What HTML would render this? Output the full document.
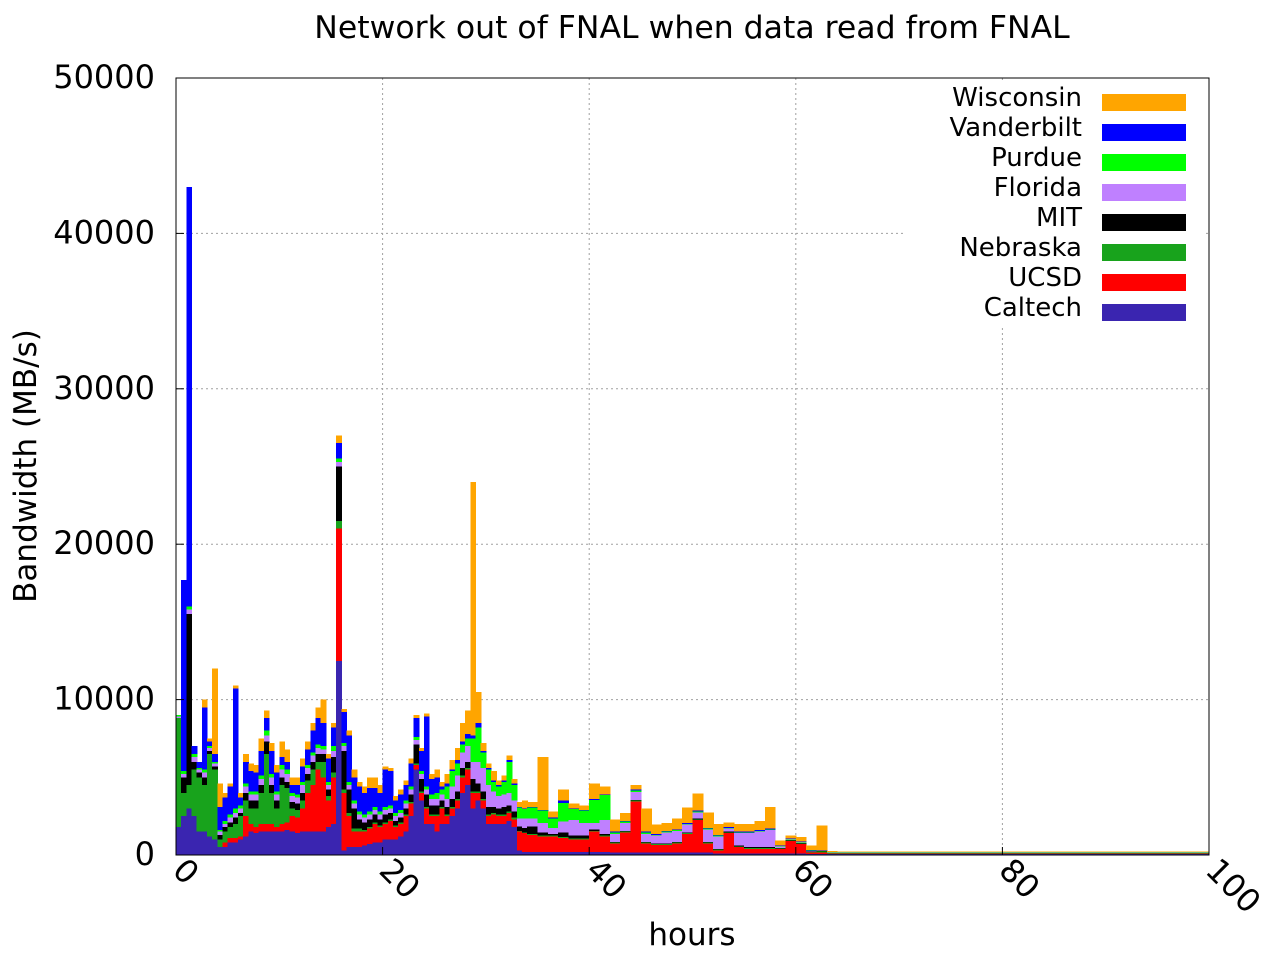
<!DOCTYPE html>
<html><head><meta charset="utf-8"><style>
body{margin:0;background:#fff;}
svg{display:block;font-family:"DejaVu Sans","Liberation Sans",sans-serif;}
</style></head><body>
<svg id="chart" width="1280" height="960">
<rect width="1280" height="960" fill="#fff"/>
<text x="692" y="38" font-size="31.5" text-anchor="middle">Network out of FNAL when data read from FNAL</text>
<g id="grid"></g>
<g id="bars"></g>
<g id="axes"></g>
<text x="692" y="945" font-size="31" text-anchor="middle">hours</text>
<text transform="translate(36,466) rotate(-90)" font-size="31" text-anchor="middle">Bandwidth (MB/s)</text>
<g id="legend"></g>
</svg>
<script>
const hours=[0,0.5,1,1.5,2,2.5,3,3.5,4,4.5,5,5.5,6,6.5,7,7.5,8,8.5,9,9.5,10,10.5,11,11.5,12,12.5,13,13.5,14,14.5,15,15.5,16,16.5,17,17.5,18,18.5,19,19.5,20,20.5,21,21.5,22,22.5,23,23.5,24,24.5,25,25.5,26,26.5,27,27.5,28,28.5,29,29.5,30,30.5,31,31.5,32,32.5,33,33.5,34,
35,36,37,38,39,40,41,42,43,44,45,46,47,48,49,50,51,52,53,54,55,56,57,58,59,60,61,62,63,
64,68,72,76,80,84,88,92,96];
// values in thousands of MB/s
const caltech=[1.8,2.5,3,2.5,1.5,1.5,1.2,1,0.5,0.5,0.8,0.8,1,1.2,1.5,1.4,1.5,1.5,1.5,1.5,1.5,1.6,1.5,1.4,1.5,1.5,1.5,1.5,1.5,1.8,2,12.5,0.3,0.5,0.5,0.5,0.6,0.7,0.8,0.8,1,1,1,1.2,1.5,2.5,5.5,3.5,2,2,1.5,2,2,2.5,3,4,4.5,3,3.5,3,2,2,2,2,2.2,1.8,0.3,0.2,0.2,
0.2,0.2,0.2,0.2,0.2,0.2,0.2,0.15,0.15,0.15,0.15,0.15,0.15,0.15,0.15,0.15,0.15,0.1,0.1,0.1,0.1,0.1,0.1,0.1,0.1,0.1,0.05,0.05,0.05,
0.05,0.05,0.05,0.05,0.05,0.05,0.05,0.05,0.05];
const ucsd=[0,0,0,0,0,0,0,0,0,0.3,0.3,0.3,0.2,1.3,0.5,0.4,0.5,0.5,0.5,0.3,0.5,0.5,1,1,1.5,2.5,3,4,3.5,1.7,3,8.5,3.7,2,1,1,0.9,1,1.2,1,1,1.2,0.8,0.8,1,0.8,0.3,0.5,1,0.5,1,1,0.5,0.5,0.5,1,1,1,0.5,0.5,0.5,0.6,0.5,0.5,0.5,0.5,1.2,1.2,1.1,
1,1,0.9,0.8,0.8,1.3,1,0.6,1.3,3.3,0.6,0.5,0.5,0.6,1.2,2.1,0.6,0.2,1.3,0.4,0.3,0.3,0.3,0.3,0.8,0.6,0.1,0.1,0.05,
0.05,0.05,0.05,0.05,0.05,0.05,0.05,0.05,0.05];
const nebraska=[7,1.5,1.5,3,3.5,3,5.3,4.5,0.5,0.7,0.7,0.9,1.3,1,1,1.2,2,4.5,2,1.2,2.5,2.2,0.5,0.5,0.5,0.8,1,0.5,1,0.3,0.3,0.5,0.2,0.2,0.2,0.2,0.1,
0.1,0.1,0.1,0.1,0.1,0.1,0.1,0.1,0.1,0.1,0.1,0.1,0.1,0.1,0.1,0.1,0.1,0.1,0.1,0.1,0.1,0.1,0.1,0.1,0.1,0.1,0.1,0.1,0.1,0.05,0.05,0.05,
0.05,0.05,0.05,0.05,0.05,0.05,0.05,0.05,0.05,0.05,0.05,0.05,0.05,0.05,0.05,0.05,0.05,0.05,0.05,0.05,0.05,0.05,0.05,0.03,0.03,0.03,0.03,0.03,0.02,
0.02,0.02,0.02,0.02,0.02,0.02,0.02,0.02,0.02];
const mit=[0,1,11,0.5,0.3,0.5,0.2,0.2,0.3,0.3,0.3,0.4,0.2,0.5,0.5,0.5,0.5,0.8,0.5,0.5,0.5,0.4,0.4,0.4,0.5,0.4,0.5,0.5,0.5,0.4,1,3.5,2.5,1.5,1.3,0.6,0.5,0.5,0.5,0.4,0.5,0.4,0.3,0.3,0.4,0.5,1.2,0.8,0.8,0.6,0.6,0.4,0.5,0.5,0.5,0.5,0.4,0.8,0.5,0.5,0.5,0.4,0.4,0.5,0.4,0.4,0.3,0.3,0.5,
0.2,0.1,0.3,0.2,0.2,0.1,0.1,0.05,0.05,0.05,0.05,0.05,0.05,0.05,0.05,0.05,0.05,0.05,0.05,0.05,0.05,0.05,0.05,0.03,0.03,0.03,0.03,0.03,0.02,
0.02,0.02,0.02,0.02,0.02,0.02,0.02,0.02,0.02];
const florida=[0.1,0.2,0.3,0.3,0.2,0.3,0.2,0.2,0.2,0.2,0.3,0.3,0.3,0.4,0.4,0.4,0.4,0.4,0.5,0.4,0.5,0.5,0.4,0.4,0.5,0.4,0.4,0.4,0.3,0.3,0.4,0.3,0.3,0.3,0.3,0.3,0.3,0.3,0.3,0.3,0.3,0.3,0.3,0.3,0.3,0.3,0.3,0.3,0.3,0.4,0.4,0.4,0.5,0.8,1,1,1,1.1,1.4,1.5,1.4,1,0.8,0.8,0.8,0.7,0.5,0.6,0.5,
0.6,0.4,0.7,1,0.8,0.4,0.9,0.5,0.5,0.5,0.5,0.5,0.7,0.7,0.5,0.4,0.8,0.8,0.2,0.8,0.9,1,1.1,0.1,0.05,0.05,0.05,0.03,0.02,
0.02,0.02,0.02,0.02,0.02,0.02,0.02,0.02,0.02];
const purdue=[0.1,0.2,0.2,0.2,0.1,0.2,0.1,0.1,0.1,0.2,0.2,0.3,0.2,0.2,0.2,0.2,0.2,0.3,0.2,0.2,0.3,0.3,0.2,0.2,0.2,0.2,0.2,0.2,0.2,0.2,0.3,0.2,0.2,0.2,0.2,0.2,0.2,0.2,0.2,0.2,0.2,0.2,0.2,0.2,0.2,0.2,0.2,0.2,0.2,0.3,0.4,0.3,0.8,1,0.8,0.5,0.5,1.5,2.2,1,1,0.6,0.6,0.8,2,1,0.7,0.6,0.7,
0.8,0.6,1.2,0.7,0.8,1.5,1.6,0.1,0.1,0.1,0.1,0.05,0.05,0.05,0.05,0.05,0.05,0.05,0.05,0.05,0.05,0.05,0.05,0.03,0.03,0.03,0.03,0.03,0.02,
0.02,0.02,0.02,0.02,0.02,0.02,0.02,0.02,0.02];
const vanderbilt=[0,12.3,27,0.5,0.4,4,0.3,0.5,1.5,1.5,1.8,7.7,0.5,1.4,1.3,1.2,1.6,0.8,1.5,1.2,0.5,0.5,0.5,0.6,1,1,1.4,1.7,1.5,1.5,1.2,1,2,3,1.5,1.6,1.4,1.5,1.2,1.2,2.4,2.2,0.8,1,1,1.5,1.2,1.3,4.5,1,1,0.2,0.2,0.1,0.2,0.2,0.3,0.2,0.3,0.1,0.1,0.1,0.1,0.1,0.1,0.1,0.05,0.05,0.05,
0.05,0.05,0.15,0.05,0.05,0.05,0.05,0.05,0.05,0.05,0.05,0.05,0.05,0.05,0.05,0.05,0.05,0.05,0.05,0.05,0.05,0.05,0.05,0.03,0.03,0.03,0.03,0.03,0.02,
0.02,0.02,0.02,0.02,0.02,0.02,0.02,0.02,0.02];
const wisconsin=[0,0,0,0,0,0.5,0.2,5.5,1.5,0.3,0.2,0.2,0.3,0.5,0.5,0.5,0.8,0.5,0.5,0.5,1,0.8,0.5,0.5,0.5,0.5,0.5,0.7,1.5,0.3,0.3,0.5,0.2,0.3,0.5,0.3,0.4,0.7,0.7,0.5,0.2,0.2,0.3,0.3,0.3,0.3,0.2,0.2,0.2,0.3,0.5,0.3,0.6,0.6,0.8,1.2,1.5,16.3,2,0.5,0.3,0.6,0.3,0.3,0.3,0.3,0.3,0.5,0.3,
3.4,0.4,0.7,0.3,0.3,1,0.5,0.8,0.5,0.3,1.5,0.6,0.5,0.7,1,1.1,1,0.7,0.3,0.5,0.5,0.6,1.4,0.3,0.2,0.3,0.3,1.6,0.05,
0.02,0.02,0.02,0.02,0.02,0.02,0.02,0.02,0.02];
const seriesNames=["Caltech","UCSD","Nebraska","MIT","Florida","Purdue","Vanderbilt","Wisconsin"];
const seriesColors=["#3a25b0","#ff0000","#18a31c","#000000","#bf80ff","#00ff00","#0000ff","#ffa500"];
const xTicks=[0,20,40,60,80,100];
const yTicks=[0,10000,20000,30000,40000,50000];

const series=[caltech,ucsd,nebraska,mit,florida,purdue,vanderbilt,wisconsin];
const L=176,R=1209,T=78,B=855;
const xs=h=>L+(h/100)*(R-L);
const ys=v=>B-(v/50000)*(B-T);
const NS="http://www.w3.org/2000/svg";
function mk(tag,attrs,parent){const e=document.createElementNS(NS,tag);for(const k in attrs)e.setAttribute(k,attrs[k]);parent.appendChild(e);return e;}
const grid=document.getElementById('grid'),bars=document.getElementById('bars'),axes=document.getElementById('axes'),legend=document.getElementById('legend');

xTicks.forEach(t=>{
  if(t>0&&t<100){const g=mk('line',{x1:xs(t),x2:xs(t),y1:T,y2:B,stroke:'#a0a0a0','stroke-width':1,'stroke-dasharray':'2,3'},grid);
  
  }
  const tk=mk('line',{x1:xs(t),x2:xs(t),y1:B,y2:B-8,stroke:'#000'},axes);
  
  
  const lb=mk('text',{transform:`translate(${xs(t)-5},${B+17}) rotate(45)`,'font-size':32},axes);
  lb.textContent=t;
  
  
});
yTicks.forEach(t=>{
  if(t>0&&t<50000){const g=mk('line',{x1:L,x2:R,y1:ys(t),y2:ys(t),stroke:'#a0a0a0','stroke-width':1,'stroke-dasharray':'2,3'},grid);
  
  }
  const tk=mk('line',{x1:L,x2:L+8,y1:ys(t),y2:ys(t),stroke:'#000'},axes);
  
  
  const lb=mk('text',{x:155,y:ys(t)+10,'font-size':32,'text-anchor':'end'},axes);
  lb.textContent=t;
  
  
});
// legend background hides grid
mk('rect',{x:905,y:80,width:300,height:248,fill:'#fff'},grid);

for(let i=0;i<hours.length;i++){
  const x0=xs(hours[i]),x1=xs(i+1<hours.length?hours[i+1]:100);
  let acc=0;
  for(let s=0;s<series.length;s++){
    const v=series[s][i]*1000;
    const r=mk('rect',{x:x0,y:ys(acc+v),width:x1-x0+0.6,height:ys(acc)-ys(acc+v),fill:seriesColors[s],'shape-rendering':'crispEdges'},bars);
    
    
    acc+=v;
  }
}
const fr=mk('rect',{x:L,y:T,width:R-L,height:B-T,fill:'none',stroke:'#000','stroke-width':1},axes);



for(let k=0;k<8;k++){
  const s=7-k;
  const y=102+k*30;
  const t=mk('text',{x:1082,y:y+4,'font-size':26,'text-anchor':'end'},legend);
  t.textContent=seriesNames[s];
  
  
  const sw=mk('rect',{x:1102,y:y-8,width:84,height:17,fill:seriesColors[s]},legend);
  
  
}
</script>
</body></html>
